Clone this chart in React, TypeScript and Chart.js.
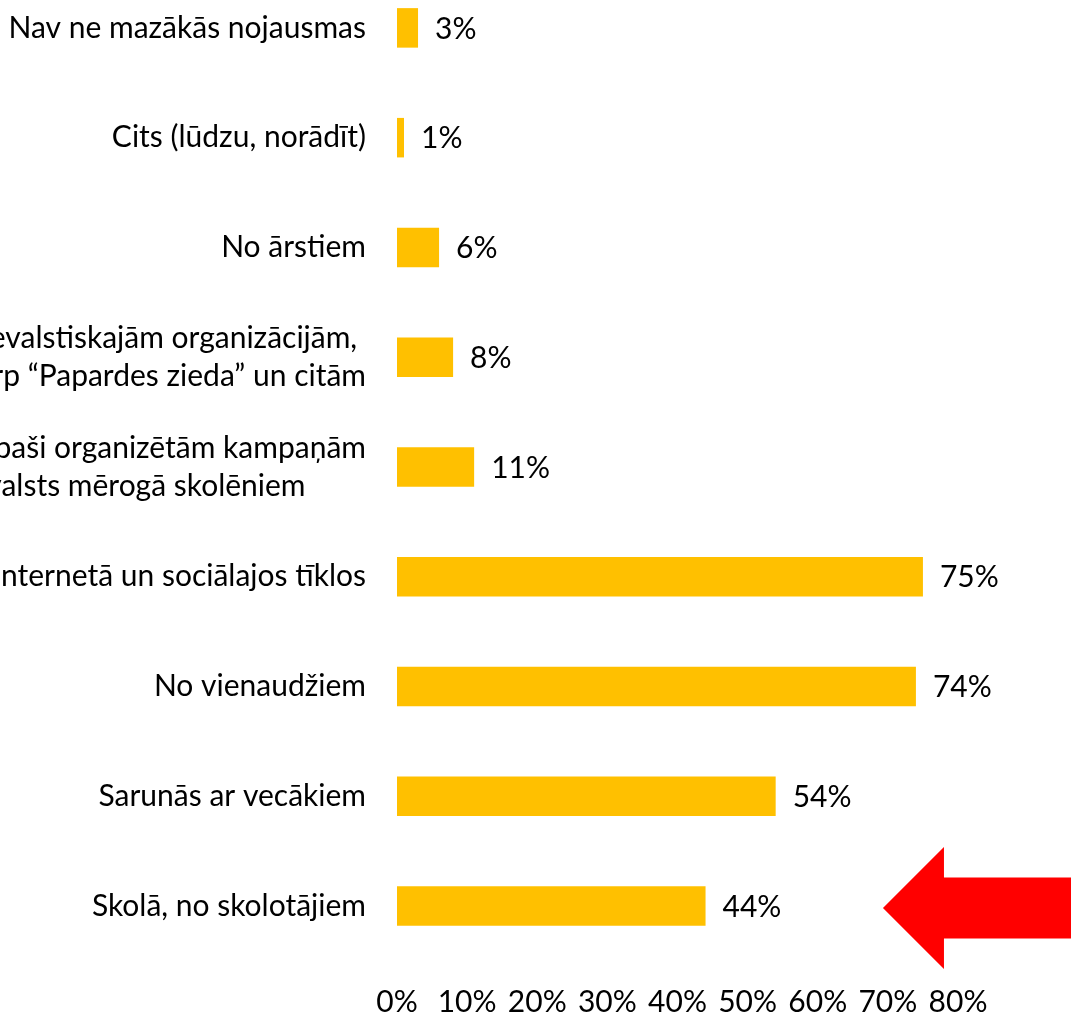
import React, { useEffect, useRef } from "react";
import { Chart, registerables } from "chart.js";

Chart.register(...registerables);

const categories: (string | string[])[] = [
  "Nav ne mazākās nojausmas",
  "Cits (lūdzu, norādīt)",
  "No ārstiem",
  ["No nevalstiskajām organizācijām,", "tostarp “Papardes zieda” un citām"],
  ["Īpaši organizētām kampaņām", "valsts mērogā skolēniem"],
  "Internetā un sociālajos tīklos",
  "No vienaudžiem",
  "Sarunās ar vecākiem",
  "Skolā, no skolotājiem",
];
const values = [3, 1, 6, 8, 11, 75, 74, 54, 44];
const xTicks = [0, 10, 20, 30, 40, 50, 60, 70, 80];
const highlightIndex = 8;
const arrowTipValue = 69.3;

const FONT_FAMILY = "Lato, 'Open Sans', sans-serif";
const FONT_SIZE = 30;
const BAR_COLOR = "#FFC000";
const ARROW_COLOR = "#FF0000";

const OFFSET_LEFT = 200;
const OFFSET_TOP = 40;
const VIEW_W = 1071;
const VIEW_H = 1017;

const labelsPlugin = {
  id: "customLabels",
  afterDatasetsDraw(chart: any) {
    const ctx = chart.ctx;
    const xs = chart.scales.x;
    const ys = chart.scales.y;
    ctx.save();
    ctx.font = `${FONT_SIZE}px ${FONT_FAMILY}`;
    ctx.fillStyle = "#000";
    ctx.textBaseline = "middle";
    // category labels
    const lineH = 38;
    categories.forEach((lab, i) => {
      const lines = Array.isArray(lab) ? lab : [lab];
      const y = ys.getPixelForValue(i);
      const widest = Math.max(...lines.map((l) => ctx.measureText(l).width));
      const right = xs.left - 31;
      ctx.textAlign = "left";
      lines.forEach((l, j) => {
        const ly = y + (j - (lines.length - 1) / 2) * lineH;
        ctx.fillText(l, right - widest, ly);
      });
    });
    // value labels
    const meta = chart.getDatasetMeta(0);
    meta.data.forEach((bar: any, i: number) => {
      ctx.textAlign = "left";
      ctx.fillText(values[i] + "%", bar.x + 17, bar.y + 1);
    });
    // arrow
    const ty = ys.getPixelForValue(highlightIndex) + 2;
    const tx = xs.getPixelForValue(arrowTipValue);
    const head = 61;
    const shaft = 30.5;
    ctx.fillStyle = ARROW_COLOR;
    ctx.beginPath();
    ctx.moveTo(tx, ty);
    ctx.lineTo(tx + head, ty - head);
    ctx.lineTo(tx + head, ty - shaft);
    ctx.lineTo(chart.width + 10, ty - shaft);
    ctx.lineTo(chart.width + 10, ty + shaft);
    ctx.lineTo(tx + head, ty + shaft);
    ctx.lineTo(tx + head, ty + head);
    ctx.closePath();
    ctx.fill();
    ctx.restore();
  },
};

export default function App() {
  const ref = useRef<HTMLCanvasElement | null>(null);
  useEffect(() => {
    if (!ref.current) return;
    const chart = new Chart(ref.current, {
      type: "bar",
      data: {
        labels: categories.map((c) => (Array.isArray(c) ? c.join(" ") : c)),
        datasets: [
          {
            data: values,
            backgroundColor: BAR_COLOR,
            barPercentage: 0.36,
            categoryPercentage: 1,
          },
        ],
      },
      options: {
        indexAxis: "y",
        responsive: false,
        animation: false,
        devicePixelRatio: 1,
        layout: { padding: { top: 13, right: 113, bottom: 0, left: 0 } },
        plugins: { legend: { display: false }, tooltip: { enabled: false } },
        scales: {
          x: {
            min: 0,
            max: 80,
            afterBuildTicks: (s: any) => {
              s.ticks = xTicks.map((v) => ({ value: v }));
            },
            afterFit: (s: any) => {
              s.height = 56;
            },
            grid: { display: false, drawTicks: false },
            border: { display: false },
            ticks: {
              autoSkip: false,
              maxRotation: 0,
              minRotation: 0,
              padding: 23,
              color: "#000",
              font: { family: FONT_FAMILY, size: FONT_SIZE },
              callback: (v: any) => v + "%",
            },
          },
          y: {
            afterFit: (s: any) => {
              s.width = 597;
            },
            grid: { display: false, drawTicks: false },
            border: { display: false },
            ticks: { display: false },
          },
        },
      },
      plugins: [labelsPlugin],
    });
    return () => chart.destroy();
  }, []);

  return (
    <div
      style={{
        position: "absolute",
        left: 0,
        top: 0,
        width: VIEW_W,
        height: VIEW_H,
        overflow: "hidden",
        background: "#fff",
      }}
    >
      <canvas
        ref={ref}
        width={VIEW_W + OFFSET_LEFT}
        height={VIEW_H + OFFSET_TOP}
        style={{
          position: "absolute",
          left: -OFFSET_LEFT,
          top: -OFFSET_TOP,
          width: VIEW_W + OFFSET_LEFT,
          height: VIEW_H + OFFSET_TOP,
        }}
      />
    </div>
  );
}
